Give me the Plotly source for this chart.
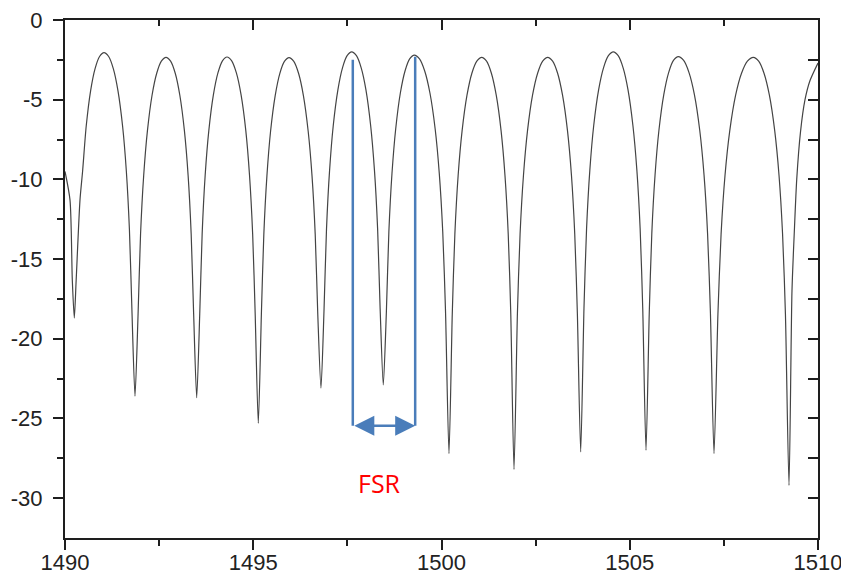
import plotly.graph_objects as go

# ---- data ----
WAVELENGTH_NM = [
    1490.000, 1490.133, 1490.194, 1490.247, 1490.297, 1490.398, 1490.468, 1490.563, 1490.681, 1490.799, 1490.918,
    1491.036, 1491.160, 1491.283, 1491.406, 1491.530, 1491.629, 1491.711, 1491.777,
    1491.859, 1491.941, 1492.007, 1492.090, 1492.189, 1492.312, 1492.436, 1492.559,
    1492.683, 1492.805, 1492.928, 1493.050, 1493.172, 1493.270, 1493.351, 1493.417,
    1493.498, 1493.579, 1493.643, 1493.723, 1493.820, 1493.941, 1494.062, 1494.182,
    1494.303, 1494.428, 1494.552, 1494.677, 1494.802, 1494.901, 1494.984, 1495.051,
    1495.134, 1495.216, 1495.281, 1495.363, 1495.460, 1495.583, 1495.705, 1495.828,
    1495.950, 1496.077, 1496.205, 1496.332, 1496.459, 1496.561, 1496.646, 1496.714,
    1496.799, 1496.881, 1496.946, 1497.028, 1497.125, 1497.248, 1497.370, 1497.493,
    1497.615, 1497.741, 1497.867, 1497.993, 1498.118, 1498.219, 1498.303, 1498.370,
    1498.454, 1498.536, 1498.602, 1498.685, 1498.784, 1498.907, 1499.031, 1499.154,
    1499.278, 1499.416, 1499.554, 1499.693, 1499.831, 1499.941, 1500.033, 1500.107,
    1500.199, 1500.286, 1500.355, 1500.442, 1500.547, 1500.677, 1500.807, 1500.938,
    1501.068, 1501.197, 1501.325, 1501.454, 1501.583, 1501.686, 1501.772, 1501.840,
    1501.926, 1502.016, 1502.087, 1502.177, 1502.284, 1502.418, 1502.553, 1502.687,
    1502.821, 1502.952, 1503.084, 1503.215, 1503.347, 1503.452, 1503.539, 1503.609,
    1503.697, 1503.784, 1503.853, 1503.940, 1504.043, 1504.173, 1504.303, 1504.433,
    1504.563, 1504.693, 1504.824, 1504.954, 1505.084, 1505.189, 1505.276, 1505.345,
    1505.432, 1505.518, 1505.586, 1505.672, 1505.775, 1505.904, 1506.033, 1506.161,
    1506.290, 1506.432, 1506.574, 1506.717, 1506.859, 1506.973, 1507.067, 1507.143,
    1507.238, 1507.342, 1507.426, 1507.530, 1507.656, 1507.812, 1507.969, 1508.125,
    1508.282, 1508.424, 1508.566, 1508.709, 1508.851, 1508.965, 1509.059, 1509.135,
    1509.230, 1509.309, 1509.376, 1509.435, 1509.536, 1509.655, 1509.788, 1510.000,
]

TRANSMISSION_DB = [
    -9.5, -11.3, -16.3, -18.7, -16.3, -11.3, -9.47, -6.67, -4.43, -3.05, -2.29,
    -2.05, -2.29, -3.05, -4.43, -6.67, -9.47, -13.14, -18.15,
    -23.6, -18.44, -13.43, -9.76, -6.96, -4.72, -3.34, -2.58,
    -2.34, -2.58, -3.34, -4.72, -6.96, -9.76, -13.43, -18.44,
    -23.7, -18.42, -13.41, -9.74, -6.94, -4.70, -3.32, -2.56,
    -2.32, -2.56, -3.32, -4.70, -6.94, -9.74, -13.41, -18.42,
    -25.3, -18.46, -13.45, -9.78, -6.98, -4.74, -3.36, -2.60,
    -2.36, -2.60, -3.36, -4.74, -6.98, -9.78, -13.45, -18.46,
    -23.1, -18.10, -13.09, -9.42, -6.62, -4.38, -3.00, -2.24,
    -2.00, -2.24, -3.00, -4.38, -6.62, -9.42, -13.09, -18.10,
    -22.9, -18.30, -13.29, -9.62, -6.82, -4.58, -3.20, -2.44,
    -2.20, -2.44, -3.20, -4.58, -6.82, -9.62, -13.29, -18.30,
    -27.2, -18.44, -13.43, -9.76, -6.96, -4.72, -3.34, -2.58,
    -2.34, -2.58, -3.34, -4.72, -6.96, -9.76, -13.43, -18.44,
    -28.2, -18.44, -13.43, -9.76, -6.96, -4.72, -3.34, -2.58,
    -2.34, -2.58, -3.34, -4.72, -6.96, -9.76, -13.43, -18.44,
    -27.1, -18.10, -13.09, -9.42, -6.62, -4.38, -3.00, -2.24,
    -2.00, -2.24, -3.00, -4.38, -6.62, -9.42, -13.09, -18.10,
    -27.0, -18.40, -13.39, -9.72, -6.92, -4.68, -3.30, -2.54,
    -2.30, -2.54, -3.30, -4.68, -6.92, -9.72, -13.39, -18.40,
    -27.2, -18.44, -13.43, -9.76, -6.96, -4.72, -3.34, -2.58,
    -2.34, -2.58, -3.34, -4.72, -6.96, -9.76, -13.43, -18.44,
    -29.2, -17.0, -13.0, -10.0, -7.0, -5.0, -3.8, -2.7,
]

X_TICK_VALUES = [1490, 1495, 1500, 1505, 1510]
X_TICK_LABELS = ["1490", "1495", "1500", "1505", "1510"]
X_MINOR_TICKS = [1492.5, 1497.5, 1502.5, 1507.5]
Y_TICK_VALUES = [0, -5, -10, -15, -20, -25, -30]
Y_TICK_LABELS = ["0", "-5", "-10", "-15", "-20", "-25", "-30"]
Y_MINOR_TICKS = [-2.5, -7.5, -12.5, -17.5, -22.5, -27.5]
X_RANGE = [1490, 1510]
Y_RANGE = [-32.5, 0]

FSR_X = [1497.644, 1499.301]
FSR_TOP = [-2.5, -2.3]
FSR_ARROW_Y = -25.45
FSR_LABEL = "FSR"
FSR_LABEL_POS = [1498.35, -29.05]

# ---- styling ----
AXIS_COLOR = "#1e1e1e"
BLUE = "#4a7dba"
TICK_FONT = dict(family="Liberation Sans, Arial, sans-serif", size=22, color="#222222")
PAGE_OFFSET = 8  # default body margin of the html page

fig = go.Figure()
fig.add_trace(go.Scatter(
    x=WAVELENGTH_NM, y=TRANSMISSION_DB, mode="lines",
    line=dict(color="#444444", width=1.2, shape="spline", smoothing=0.7),
    showlegend=False, hoverinfo="skip", cliponaxis=True,
))
# invisible trace so the mirrored (top/right) axes are drawn
fig.add_trace(go.Scatter(x=[None], y=[None], xaxis="x2", yaxis="y2",
                         showlegend=False, hoverinfo="skip"))

for i in range(2):
    fig.add_shape(type="line", xref="x", yref="y",
                  x0=FSR_X[i], x1=FSR_X[i], y0=FSR_TOP[i], y1=FSR_ARROW_Y,
                  line=dict(color=BLUE, width=2.5))

fig.add_annotation(x=FSR_X[1], y=FSR_ARROW_Y, ax=FSR_X[0], ay=FSR_ARROW_Y,
                   xref="x", yref="y", axref="x", ayref="y", text="",
                   showarrow=True, arrowside="end+start", arrowhead=2, startarrowhead=2,
                   arrowwidth=2.5, arrowsize=1.6, startarrowsize=1.6, arrowcolor=BLUE,
                   standoff=0, startstandoff=0)

fig.add_annotation(x=FSR_LABEL_POS[0], y=FSR_LABEL_POS[1], xref="x", yref="y",
                   text=FSR_LABEL, showarrow=False,
                   font=dict(family="Open Sans, Noto Sans, sans-serif", size=25, color="#ff0000"))

common = dict(showgrid=False, zeroline=False, showline=True, linecolor=AXIS_COLOR,
              linewidth=2, tickcolor=AXIS_COLOR, tickwidth=2, ticklen=10, automargin=False)

fig.update_layout(
    width=849, height=576,
    margin=dict(l=65 - PAGE_OFFSET, r=31 + PAGE_OFFSET, t=20 - PAGE_OFFSET, b=38 + PAGE_OFFSET,
                pad=0, autoexpand=False),
    paper_bgcolor="white", plot_bgcolor="white",
    showlegend=False,
    xaxis=dict(range=X_RANGE, tickmode="array", tickvals=X_TICK_VALUES, ticktext=X_TICK_LABELS,
               ticks="outside", tickfont=TICK_FONT, ticklabelstandoff=-6,
               ticklabeloverflow="allow",
               minor=dict(tickmode="array", tickvals=X_MINOR_TICKS, ticks="outside",
                          ticklen=6, tickwidth=2, tickcolor=AXIS_COLOR),
               **common),
    yaxis=dict(range=Y_RANGE, tickmode="array", tickvals=Y_TICK_VALUES, ticktext=Y_TICK_LABELS,
               ticks="outside", tickfont=TICK_FONT, ticklabelstandoff=6,
               ticklabeloverflow="allow",
               minor=dict(tickmode="array", tickvals=Y_MINOR_TICKS, ticks="outside",
                          ticklen=6, tickwidth=2, tickcolor=AXIS_COLOR),
               **common),
    xaxis2=dict(range=X_RANGE, overlaying="x", side="top", anchor="y",
                tickmode="array", tickvals=X_TICK_VALUES, ticks="inside", showticklabels=False,
                minor=dict(tickmode="array", tickvals=X_MINOR_TICKS, ticks="inside",
                           ticklen=6, tickwidth=2, tickcolor=AXIS_COLOR),
                **common),
    yaxis2=dict(range=Y_RANGE, overlaying="y", side="right", anchor="x",
                tickmode="array", tickvals=Y_TICK_VALUES, ticks="inside", showticklabels=False,
                minor=dict(tickmode="array", tickvals=Y_MINOR_TICKS, ticks="inside",
                           ticklen=10, tickwidth=2, tickcolor=AXIS_COLOR),
                **common),
)

fig.write_html("out.html")
